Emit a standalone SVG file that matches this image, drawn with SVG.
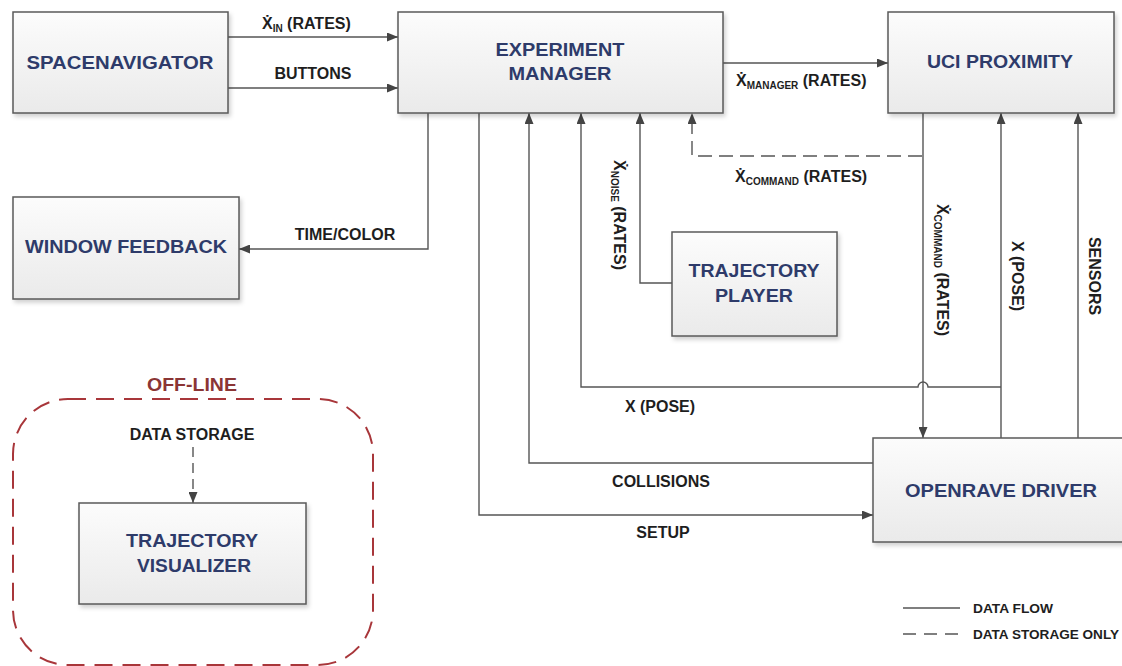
<svg xmlns="http://www.w3.org/2000/svg" width="1122" height="666" viewBox="0 0 1122 666">
<defs>
<linearGradient id="g" x1="0" y1="0" x2="0" y2="1"><stop offset="0" stop-color="#fcfcfc"/><stop offset="1" stop-color="#eaeaea"/></linearGradient>
<filter id="sh" x="-5%" y="-5%" width="115%" height="125%"><feDropShadow dx="2" dy="3" stdDeviation="2" flood-color="#000" flood-opacity="0.18"/></filter>
<marker id="ah" markerWidth="11" markerHeight="9" refX="11" refY="4.5" orient="auto" markerUnits="userSpaceOnUse" viewBox="0 0 11 9"><path d="M0,0 L11,4.5 L0,9 z" fill="#444"/></marker>
<style>
.box{fill:url(#g);stroke:#5a5a5a;stroke-width:1.5;filter:url(#sh)}
.nl{font-family:"Liberation Sans",Arial,sans-serif;font-weight:bold;font-size:19px;fill:#2e3b6a;text-anchor:middle}
.el{font-family:"Liberation Sans",Arial,sans-serif;font-weight:bold;font-size:16px;fill:#1e1e1e}
.m{text-anchor:middle}
.sub{font-size:10px}
.c{fill:none;stroke:#555;stroke-width:1.4}
.d{stroke-dasharray:14 7}
.lg{font-family:"Liberation Sans",Arial,sans-serif;font-weight:bold;font-size:13px;fill:#1e1e1e}
</style>
</defs>
<rect width="1122" height="666" fill="#fff"/>

<g id="connectors">
<path class="c" d="M228,37 H398" marker-end="url(#ah)"/>
<path class="c" d="M228,88 H398" marker-end="url(#ah)"/>
<path class="c" d="M723,63 H888" marker-end="url(#ah)"/>
<path class="c" d="M428,113 V249 H239" marker-end="url(#ah)"/>
<path class="c" d="M479,113 V515 H873" marker-end="url(#ah)"/>
<path class="c" d="M873,463 H529 V113" marker-end="url(#ah)"/>
<path class="c" d="M1001,438 V113" marker-end="url(#ah)"/>
<path class="c" d="M1001,387 H928 A5,5 0 0 0 918,387 H581 V113" marker-end="url(#ah)"/>
<path class="c" d="M672,283 H640 V113" marker-end="url(#ah)"/>
<path class="c d" d="M922,156 H692 V113" marker-end="url(#ah)"/>
<path class="c" d="M923,113 V438" marker-end="url(#ah)"/>
<path class="c" d="M1078,438 V113" marker-end="url(#ah)"/>
<path class="c" d="M193,447 V503" stroke-dasharray="10 6" marker-end="url(#ah)"/>

<text class="el" x="262" y="29">Ẋ<tspan class="sub" dy="3">IN</tspan><tspan dy="-3"> (RATES)</tspan></text>
<text class="el m" x="313" y="79">BUTTONS</text>
<text class="el" x="736" y="86">Ẋ<tspan class="sub" dy="3">MANAGER</tspan><tspan dy="-3"> (RATES)</tspan></text>
<text class="el" x="735" y="182">Ẋ<tspan class="sub" dy="3">COMMAND</tspan><tspan dy="-3"> (RATES)</tspan></text>
<text class="el m" x="345" y="240">TIME/COLOR</text>
<text class="el m" x="660" y="412">X (POSE)</text>
<text class="el m" x="661" y="487">COLLISIONS</text>
<text class="el m" x="663" y="538">SETUP</text>
<g transform="translate(620,215) rotate(90)"><text class="el m" x="0" y="6">Ẋ<tspan class="sub" dy="3">NOISE</tspan><tspan dy="-3"> (RATES)</tspan></text></g>
<g transform="translate(943,270) rotate(90)"><text class="el m" x="0" y="6">Ẋ<tspan class="sub" dy="3">COMMAND</tspan><tspan dy="-3"> (RATES)</tspan></text></g>
<g transform="translate(1018,276) rotate(90)"><text class="el m" x="0" y="6">X (POSE)</text></g>
<g transform="translate(1095,276) rotate(90)"><text class="el m" x="0" y="6">SENSORS</text></g>
</g>

<g id="spacenavigator">
<rect class="box" x="13" y="12" width="215" height="101"/>
<text class="nl" x="120" y="69" textLength="187" lengthAdjust="spacingAndGlyphs">SPACENAVIGATOR</text>
</g>
<g id="experiment-manager">
<rect class="box" x="398" y="12" width="325" height="101"/>
<text class="nl" x="560" y="56" textLength="129" lengthAdjust="spacingAndGlyphs">EXPERIMENT</text>
<text class="nl" x="560" y="80" textLength="103" lengthAdjust="spacingAndGlyphs">MANAGER</text>
</g>
<g id="uci-proximity">
<rect class="box" x="888" y="12" width="226" height="101"/>
<text class="nl" x="1000" y="68" textLength="146" lengthAdjust="spacingAndGlyphs">UCI PROXIMITY</text>
</g>
<g id="window-feedback">
<rect class="box" x="13" y="197" width="226" height="102"/>
<text class="nl" x="126" y="253" textLength="202" lengthAdjust="spacingAndGlyphs">WINDOW FEEDBACK</text>
</g>
<g id="trajectory-player">
<rect class="box" x="672" y="232" width="165" height="104"/>
<text class="nl" x="754" y="277" textLength="131" lengthAdjust="spacingAndGlyphs">TRAJECTORY</text>
<text class="nl" x="754" y="302" textLength="78" lengthAdjust="spacingAndGlyphs">PLAYER</text>
</g>
<g id="openrave-driver">
<rect class="box" x="873" y="438" width="260" height="104"/>
<text class="nl" x="1001" y="497" textLength="192" lengthAdjust="spacingAndGlyphs">OPENRAVE DRIVER</text>
</g>

<g id="offline">
<rect x="13" y="399" width="360" height="266" rx="55" ry="55" fill="none" stroke="#a8363a" stroke-width="2" stroke-dasharray="18 10"/>
<text x="192" y="391" text-anchor="middle" font-family="Liberation Sans, Arial, sans-serif" font-weight="bold" font-size="18" fill="#8b3535" textLength="90" lengthAdjust="spacingAndGlyphs">OFF-LINE</text>
<text class="el m" x="192" y="440">DATA STORAGE</text>
</g>
<g id="trajectory-visualizer">
<rect class="box" x="79" y="503" width="227" height="101"/>
<text class="nl" x="192" y="547" textLength="132" lengthAdjust="spacingAndGlyphs">TRAJECTORY</text>
<text class="nl" x="194" y="572" textLength="114" lengthAdjust="spacingAndGlyphs">VISUALIZER</text>
</g>

<g id="legend">
<line x1="903" y1="608" x2="960" y2="608" stroke="#555" stroke-width="1.4"/>
<line x1="903" y1="634" x2="960" y2="634" stroke="#555" stroke-width="1.4" stroke-dasharray="13 8"/>
<text class="lg" x="973" y="613" textLength="80" lengthAdjust="spacingAndGlyphs">DATA FLOW</text>
<text class="lg" x="973" y="639" textLength="146" lengthAdjust="spacingAndGlyphs">DATA STORAGE ONLY</text>
</g>
</svg>
